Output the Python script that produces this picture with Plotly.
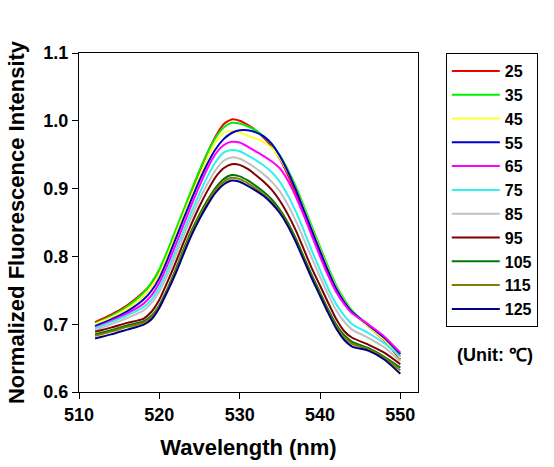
import plotly.graph_objects as go

wavelength = [512, 514, 516, 518, 519, 520, 521, 522, 523, 524, 525, 526, 527, 528, 529, 530,
              531, 532, 533, 534, 535, 536, 537, 538, 539, 540, 541, 542, 543, 544, 546, 548, 550]

temps = ["25", "35", "45", "55", "65", "75", "85", "95", "105", "115", "125"]

t25 = [.703, .714, .728, .747, .760, .778, .805, .835, .865, .895, .925, .953, .977, .995, 1.002, 1.000,
       .994, .986, .975, .962, .944, .920, .893, .864, .834, .804, .776, .752, .733, .718, .697, .676, .648]
t35 = [.701, .712, .726, .746, .761, .781, .808, .838, .868, .898, .927, .953, .975, .990, .997, .996,
       .992, .986, .977, .965, .949, .928, .903, .874, .844, .814, .785, .758, .737, .720, .698, .678, .653]
t45 = [.700, .710, .723, .741, .755, .774, .801, .831, .861, .890, .918, .945, .968, .982, .985, .983,
       .978, .974, .968, .960, .945, .924, .899, .870, .840, .810, .781, .755, .734, .718, .697, .677, .650]
t55 = [.697, .707, .719, .736, .749, .768, .795, .825, .855, .884, .912, .937, .958, .973, .982, .986,
       .986, .983, .977, .966, .948, .925, .898, .868, .838, .808, .779, .753, .733, .718, .699, .680, .656]
t65 = [.695, .705, .716, .730, .742, .761, .787, .816, .846, .876, .904, .930, .951, .964, .969, .968,
       .962, .955, .948, .940, .930, .912, .888, .860, .830, .800, .772, .748, .730, .716, .700, .682, .658]
t75 = [.694, .703, .713, .725, .736, .754, .779, .807, .837, .866, .893, .918, .939, .953, .957, .955,
       .949, .942, .934, .924, .910, .890, .866, .838, .808, .780, .753, .730, .713, .700, .687, .672, .652]
t85 = [.691, .700, .709, .720, .731, .748, .772, .800, .830, .858, .884, .907, .927, .941, .946, .944,
       .938, .930, .921, .910, .896, .876, .852, .825, .797, .770, .744, .721, .704, .692, .680, .666, .645]
t95 = [.689, .695, .702, .708, .718, .736, .762, .790, .820, .848, .874, .897, .917, .930, .936, .935,
       .929, .920, .910, .898, .882, .862, .838, .810, .782, .757, .732, .708, .690, .680, .670, .658, .641]
t105 = [.685, .691, .698, .704, .712, .728, .752, .780, .810, .838, .862, .883, .901, .914, .920, .918,
        .912, .904, .895, .884, .869, .850, .826, .799, .772, .747, .722, .700, .684, .674, .665, .652, .636]
t115 = [.683, .689, .696, .702, .710, .726, .750, .777, .807, .835, .859, .880, .898, .910, .916, .914,
        .908, .900, .891, .880, .866, .847, .823, .796, .769, .744, .719, .697, .681, .671, .663, .650, .632]
t125 = [.679, .685, .692, .699, .707, .724, .748, .774, .803, .831, .855, .876, .894, .906, .912, .910,
        .904, .897, .889, .878, .864, .845, .821, .794, .767, .742, .717, .694, .677, .667, .661, .648, .627]

series = [t25, t35, t45, t55, t65, t75, t85, t95, t105, t115, t125]
colors = ["#F00000", "#00F000", "#FFFF30", "#0000D0", "#FF00FF", "#30F0F0",
          "#C0C0C0", "#800000", "#007800", "#808000", "#000080"]

FONT = "Arial, 'Liberation Sans', sans-serif"

fig = go.Figure()
for name, vals, col in zip(temps, series, colors):
    fig.add_trace(go.Scatter(x=wavelength, y=vals, mode="lines", name=name,
                             line=dict(color=col, width=2, shape="spline", smoothing=0.6)))

fig.update_layout(
    width=554, height=467,
    margin=dict(l=79, r=136, t=53, b=75, autoexpand=False),
    plot_bgcolor="white", paper_bgcolor="white",
    font=dict(family=FONT, size=18, color="black", weight="bold"),
    showlegend=True,
    legend=dict(x=1.082, y=1.0, xanchor="left", yanchor="top",
                bordercolor="black", borderwidth=1, bgcolor="white",
                font=dict(family=FONT, size=16, color="black", weight="bold"),
                itemwidth=48, traceorder="normal"),
    annotations=[dict(text="(Unit: ℃)", x=1.227, y=0.109, xref="paper", yref="paper",
                      showarrow=False, xanchor="center", yanchor="middle",
                      font=dict(family=FONT, size=18, color="black", weight="bold"))],
)
fig.update_xaxes(range=[510, 552.2], tick0=510, dtick=10, ticks="outside", ticklen=6,
                 tickwidth=1, tickcolor="black", showline=True, linecolor="black", linewidth=1,
                 mirror=True, showgrid=False, zeroline=False, automargin=False,
                 title=dict(text="Wavelength (nm)", standoff=16))
fig.update_yaxes(range=[0.6, 1.1], tick0=0.6, dtick=0.1, tickformat=".1f", ticks="outside",
                 ticklen=6, tickwidth=1, tickcolor="black", showline=True, linecolor="black",
                 linewidth=1, mirror=True, showgrid=False, zeroline=False, automargin=False,
                 title=dict(text="Normalized Fluorescence Intensity", standoff=12))

fig.write_html("out.html", config={"displayModeBar": False},
               post_script="document.body.style.margin='0';")
